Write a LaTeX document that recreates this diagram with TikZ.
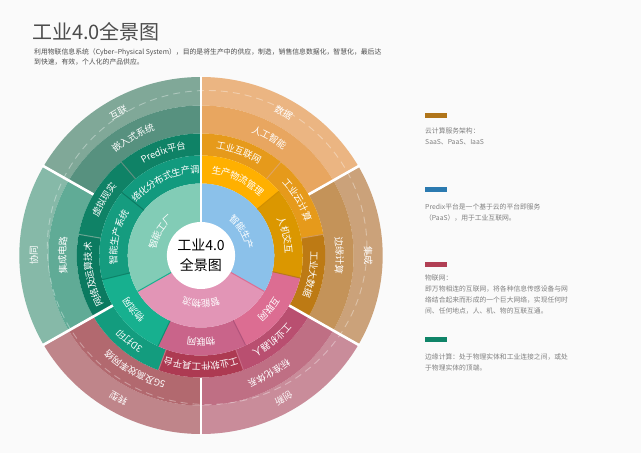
\documentclass[tikz,border=0pt]{standalone}
\usepackage{fontspec}
\setmainfont{Noto Sans CJK SC}
\usetikzlibrary{decorations.text}

\definecolor{pagebg}{HTML}{FAFAFA}
\tikzset{
    legendtext/.style={anchor=north west,align=left,inner sep=0pt,text=black!50,font=\fontsize{6.8}{10.7}\selectfont},
    legendbar/.style={minimum width=22pt,minimum height=5pt,inner sep=0pt,anchor=north west},
    whitegap/.style={draw=white,line width=2.6pt},
    thingap/.style={draw=white,line width=1.8pt}
}
\newcommand{\arclabel}[3]{%
    \path[decorate,decoration={text along path,text align=center,raise=-3.3pt,text color=white,
        text={|\fontsize{9.4}{9.4}\selectfont|#3}}]
        ({#2+70}:#1) arc[start angle={#2+70},end angle={#2-70},radius=#1];
}

\begin{document}
\begin{tikzpicture}[x=1pt,y=1pt]
        \useasboundingbox (-201,-197.5) rectangle (440,255.5);
        \fill[pagebg] (-201,-197.5) rectangle (440,255.5);

        \node[anchor=west,inner sep=0pt,text=black!70,font=\fontsize{20}{20}\selectfont] (title) at (-169,223.5) {工业4.0全景图};
        \node[anchor=north west,align=left,inner sep=0pt,text=black!70,font=\fontsize{6.85}{10}\selectfont] (intro) at (-167,207)
            {利用物联信息系统（Cyber–Physical System），目的是将生产中的供应，制造，销售信息数据化，智慧化，最后达\\到快速，有效，个人化的产品供应。};

        \begin{scope}[x=1.018pt]
        % a1/a2/inner/outer/colour
        \foreach \aa/\ab/\ri/\ro/\hex in {
            30/90/150/178.5/EBB582, 30/90/122/150/E8A660,
            -30/30/150/178.5/CBA27A, -30/30/122/150/C49359,
            -90/-30/150/178.5/C98C9A, -90/-30/122/150/BF6F84,
            -150/-90/150/178.5/BF858A, -150/-90/122/150/B2696F,
            150/210/150/178.5/86B9A8, 150/210/122/150/60AB96,
            90/150/150/178.5/80A898, 90/150/122/150/57917F,
            50/90/100/122/E69A1B, 10/50/100/122/E69A1B, -30/10/100/122/BD7A14,
            -70/-30/100/122/B94F70, -110/-70/100/122/AD3A52, -150/-110/100/122/139C7E,
            170/210/100/122/0B7A60, 130/170/100/122/0F8266, 90/130/100/122/0F8266,
            40/90/72/100/FFB000, -13/40/72/100/DB9700, -64/-13/72/100/DC6D92,
            -115/-64/72/100/C9648A, -166/-115/72/100/17B08F, 141/194/72/100/159C7F, 90/141/72/100/129A7E,
            -30/90/0/72/8BC1EA, -150/-30/0/72/E295B6, 90/210/0/72/82CCB6}
        {
            \definecolor{sectorfill}{HTML}{\hex}
            \fill[sectorfill] (\aa:\ro) arc[start angle=\aa,end angle=\ab,radius=\ro] -- (\ab:\ri) arc[start angle=\ab,end angle=\aa,radius=\ri] -- cycle;
        }

        \draw[white,opacity=0.35,line width=0.9pt,dash pattern=on 7pt off 5pt] (6,8) circle(157);

        % thin edges between the segments
        \foreach \a/\ri/\ro/\hex in {
            130/100/122/5F8F80, 170/100/122/6AA592, 50/100/122/E0A35F, 10/100/122/D39A5A,
            -70/100/122/C86A85, -110/100/122/C5707F,
            40/72/100/D28F00, -13/72/100/B8791C, -64/72/100/B0527A, -115/72/100/0F8F72,
            -166/72/100/0D8268, 141/72/100/0D7A62, -30/34/72/DC6D92, -150/34/72/17B08F}
        {
            \definecolor{edgecol}{HTML}{\hex}
            \draw[edgecol,line width=1pt] (\a:\ri) -- (\a:\ro);
        }

        \draw[thingap] (90:0) -- (90:179);
        \draw[thingap] (-90:122) -- (-90:179);
        \draw[whitegap] (150:122) -- (150:180);
        \draw[whitegap] (30:122) -- (30:180);
        \draw[whitegap] (-30:100) -- (-30:180);
        \draw[whitegap] (-150:100) -- (-150:180);

        \fill[white] (0,0) circle(33.5);

        \arclabel{164}{60}{数据}
        \arclabel{164}{0}{集成}
        \arclabel{164}{-60}{创新}
        \arclabel{164}{-120}{转型}
        \arclabel{164}{180}{协同}
        \arclabel{164}{120}{互联}
        \arclabel{136}{60}{人工智能}
        \arclabel{136}{0}{边缘计算}
        \arclabel{136}{-60}{标准化体系}
        \arclabel{134}{-120}{5G及高效率网络}
        \arclabel{136}{180}{集成电路}
        \arclabel{136}{120}{嵌入式系统}
        \arclabel{111}{70}{工业互联网}
        \arclabel{111}{30}{工业云计算}
        \arclabel{111}{-10}{工业大数据}
        \arclabel{111}{-50}{工业机器人}
        \arclabel{111}{-90}{工业软件工具平台}
        \arclabel{111}{-130}{3D打印}
        \arclabel{111}{190}{网络及运算技术}
        \arclabel{111}{150}{虚拟现实}
        \arclabel{111}{110}{Predix平台}
        \arclabel{86}{64}{生产物流管理}
        \arclabel{86}{13.5}{人机交互}
        \arclabel{86}{-38.5}{互联网}
        \arclabel{86}{-90}{物联网}
        \arclabel{86}{-141}{物流网}
        \arclabel{86}{167.5}{智能生产系统}
        \arclabel{86}{116}{络化分布式生产调}
        \arclabel{48}{30}{智能生产}
        \arclabel{48}{-90}{智能物流}
        \arclabel{48}{150}{智能工厂}
        \end{scope}

        \node[align=center,inner sep=0pt,font=\fontsize{14}{20}\selectfont] (core) at (0,0) {工业4.0\\全景图};

        % legend on the right
        \definecolor{barcloud}{HTML}{B0751A}
        \definecolor{barpredix}{HTML}{2B7AB0}
        \definecolor{bariot}{HTML}{B13F54}
        \definecolor{baredge}{HTML}{0F8468}
        \node[legendbar,fill=barcloud] (cloudbar) at (224,142.8) {};
        \node[legendtext] (cloudtext) at (224,128) {云计算服务架构：\\SaaS、PaaS、IaaS};
        \node[legendbar,fill=barpredix] (predixbar) at (224,68.2) {};
        \node[legendtext] (predixtext) at (224,52) {Predix平台是一个基于云的平台即服务\\（PaaS），用于工业互联网。};
        \node[legendbar,fill=bariot] (iotbar) at (224,-6.5) {};
        \node[legendtext] (iottext) at (224,-19.5) {物联网：\\即万物相连的互联网，将各种信息传感设备与网\\络结合起来而形成的一个巨大网络，实现任何时\\间、任何地点，人、机、物的互联互通。};
        \node[legendbar,fill=baredge] (edgebar) at (224,-81.2) {};
        \node[legendtext] (edgetext) at (224,-98) {边缘计算：处于物理实体和工业连接之间，或处\\于物理实体的顶端。};
    \end{tikzpicture}
\end{document}
